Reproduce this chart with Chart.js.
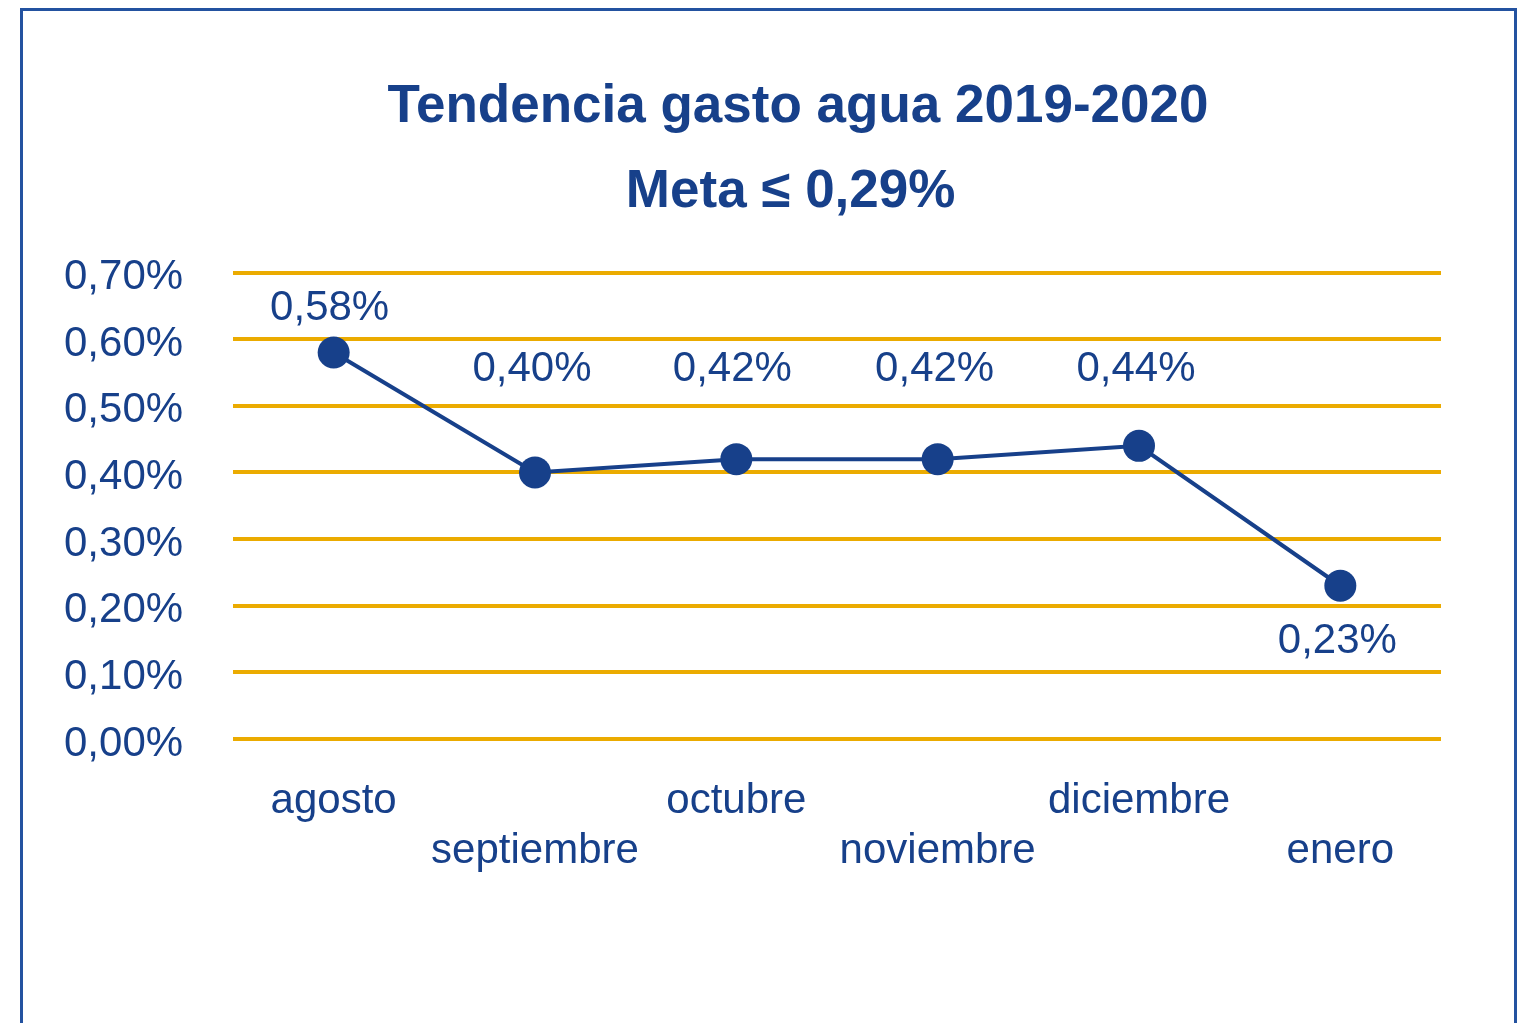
<!DOCTYPE html>
<html>
<head>
  <title>Tendencia gasto agua</title>
  <script src="https://cdn.jsdelivr.net/npm/chart.js"></script>
  <style>
    html, body { margin: 0; padding: 0; background: #fff; overflow: hidden; }
    .frame {
      position: absolute; left: 20px; top: 8px; width: 1491px; height: 1100px;
      border: 3px solid #2352a0;
    }
    .wrap { position: absolute; left: 0; top: 0; width: 1526px; height: 1023px; }
  </style>
</head>
<body>

<div class="frame"></div>
<div class="wrap"><canvas id="chart"></canvas></div>

<script>
// data
const months = ['agosto', 'septiembre', 'octubre', 'noviembre', 'diciembre', 'enero'];
const gasto = [0.58, 0.40, 0.42, 0.42, 0.44, 0.23];
const titleLines = ['Tendencia gasto agua 2019-2020', 'Meta \u2264 0,29% '];

// where each value label sits relative to its point (px)
const labelDx = [-4, -3, -4, -3, -3, -3];
const labelDy = [-44, -103, -90, -90, -76, 56];

const blue = '#17408a';
const gold = '#ebab00';
const font = '"Liberation Sans", Arial, sans-serif';

function pct(v) {
  return v.toFixed(2).replace('.', ',') + '%';
}

const valueLabels = {
  id: 'valueLabels',
  afterDatasetsDraw(chart) {
    const ctx = chart.ctx;
    const meta = chart.getDatasetMeta(0);
    ctx.save();
    ctx.font = '42px ' + font;
    ctx.fillStyle = blue;
    ctx.textAlign = 'center';
    ctx.textBaseline = 'middle';
    meta.data.forEach((pt, i) => {
      ctx.fillText(pct(gasto[i]), pt.x + labelDx[i], pt.y + labelDy[i]);
    });
    ctx.restore();
  }
};

new Chart(document.getElementById('chart'), {
  type: 'line',
  data: {
    labels: months,
    datasets: [{
      data: gasto,
      borderColor: blue,
      backgroundColor: blue,
      borderWidth: 4,
      pointRadius: 16,
      pointHoverRadius: 16,
      pointBackgroundColor: blue,
      pointBorderWidth: 0,
      tension: 0,
      clip: false
    }]
  },
  options: {
    responsive: true,
    maintainAspectRatio: false,
    animation: false,
    events: [],
    layout: { padding: { left: 155, right: 85, top: 0, bottom: 144 } },
    plugins: {
      legend: { display: false },
      tooltip: { enabled: false },
      title: {
        display: true,
        text: titleLines,
        color: blue,
        font: { family: font, size: 53, weight: 'bold', lineHeight: 1.6 },
        padding: { top: 65, bottom: 38 }
      }
    },
    scales: {
      x: {
        offset: true,
        grid: { display: false, drawTicks: false },
        border: { display: false },
        afterFit: s => { s.height = 140; },
        ticks: {
          color: blue,
          padding: 37,
          maxRotation: 0,
          autoSkip: false,
          font: { family: font, size: 42, lineHeight: 1.2 },
          callback: (v, i) => i % 2 ? ['', months[i]] : [months[i], '']
        }
      },
      y: {
        min: 0,
        max: 0.7,
        afterFit: s => { s.width = 78; },
        grid: { color: gold, lineWidth: 4, drawTicks: false },
        border: { display: false },
        ticks: {
          stepSize: 0.1,
          color: blue,
          mirror: true,
          crossAlign: 'near',
          padding: -169,
          labelOffset: 5,
          font: { family: font, size: 42 },
          callback: v => pct(v)
        }
      }
    }
  },
  plugins: [valueLabels]
});
</script>
</body>
</html>
